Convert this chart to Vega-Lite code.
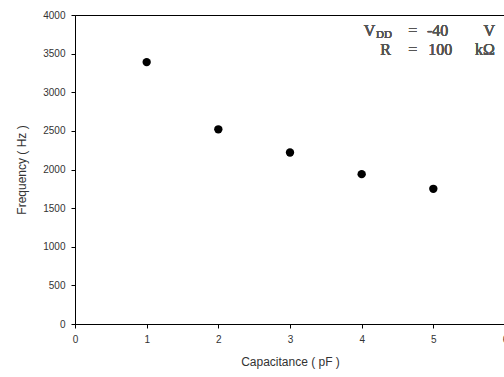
{
  "$schema": "https://vega.github.io/schema/vega-lite/v6.json",
  "width": 430,
  "height": 309,
  "autosize": {"type": "none"},
  "padding": {"left": 75, "top": 15, "right": 0, "bottom": 53},
  "background": "white",
  "config": {
    "view": {"stroke": "#000", "strokeWidth": 1},
    "text": {"font": "Liberation Serif", "fontSize": 16, "fontWeight": "normal", "baseline": "alphabetic", "color": "#555"},
    "axis": {
      "labelFont": "Liberation Sans",
      "titleFont": "Liberation Sans",
      "labelFontSize": 10,
      "titleFontSize": 12,
      "titleFontWeight": "normal",
      "labelColor": "#333",
      "titleColor": "#333",
      "domainColor": "#000",
      "tickColor": "#000",
      "grid": false,
      "tickSize": 4,
      "labelOverlap": false,
      "format": "d",
      "labelPadding": 6
    }
  },
  "data": {
    "values": [
      {"capacitance": 1, "frequency": 3390},
      {"capacitance": 2, "frequency": 2520},
      {"capacitance": 3, "frequency": 2220},
      {"capacitance": 4, "frequency": 1940},
      {"capacitance": 5, "frequency": 1750}
    ]
  },
  "layer": [
    {
      "mark": {"type": "point", "filled": true, "color": "#000", "opacity": 1, "size": 70},
      "encoding": {
        "x": {
          "field": "capacitance", "type": "quantitative",
          "scale": {"domain": [0, 6], "nice": false, "zero": true},
          "axis": {"title": "Capacitance ( pF )", "values": [0, 1, 2, 3, 4, 5, 6], "titlePadding": 12, "labelFlush": false}
        },
        "y": {
          "field": "frequency", "type": "quantitative",
          "scale": {"domain": [0, 4000], "nice": false},
          "axis": {"title": "Frequency ( Hz )", "values": [0, 500, 1000, 1500, 2000, 2500, 3000, 3500, 4000], "titlePadding": 14}
        }
      }
    },
    {
      "mark": {"type": "text", "align": "left"},
      "encoding": {
        "x": {"datum": 4.03, "type": "quantitative", "axis": {"title": "Capacitance ( pF )", "values": [0, 1, 2, 3, 4, 5, 6], "titlePadding": 12, "labelFlush": false}},
        "y": {"datum": 3728, "type": "quantitative", "axis": {"title": "Frequency ( Hz )", "values": [0, 500, 1000, 1500, 2000, 2500, 3000, 3500, 4000], "titlePadding": 14}},
        "text": {"value": "V"}
      }
    },
    {
      "mark": {"type": "text", "align": "left", "fontSize": 11},
      "encoding": {
        "x": {"datum": 4.2, "type": "quantitative", "axis": {"title": "Capacitance ( pF )", "values": [0, 1, 2, 3, 4, 5, 6], "titlePadding": 12, "labelFlush": false}},
        "y": {"datum": 3696, "type": "quantitative", "axis": {"title": "Frequency ( Hz )", "values": [0, 500, 1000, 1500, 2000, 2500, 3000, 3500, 4000], "titlePadding": 14}},
        "text": {"value": "DD"}
      }
    },
    {
      "mark": {"type": "text", "align": "left"},
      "encoding": {
        "x": {"datum": 4.65, "type": "quantitative", "axis": {"title": "Capacitance ( pF )", "values": [0, 1, 2, 3, 4, 5, 6], "titlePadding": 12, "labelFlush": false}},
        "y": {"datum": 3728, "type": "quantitative", "axis": {"title": "Frequency ( Hz )", "values": [0, 500, 1000, 1500, 2000, 2500, 3000, 3500, 4000], "titlePadding": 14}},
        "text": {"value": "="}
      }
    },
    {
      "mark": {"type": "text", "align": "left"},
      "encoding": {
        "x": {"datum": 4.91, "type": "quantitative", "axis": {"title": "Capacitance ( pF )", "values": [0, 1, 2, 3, 4, 5, 6], "titlePadding": 12, "labelFlush": false}},
        "y": {"datum": 3728, "type": "quantitative", "axis": {"title": "Frequency ( Hz )", "values": [0, 500, 1000, 1500, 2000, 2500, 3000, 3500, 4000], "titlePadding": 14}},
        "text": {"value": "-40"}
      }
    },
    {
      "mark": {"type": "text", "align": "right"},
      "encoding": {
        "x": {"datum": 5.86, "type": "quantitative", "axis": {"title": "Capacitance ( pF )", "values": [0, 1, 2, 3, 4, 5, 6], "titlePadding": 12, "labelFlush": false}},
        "y": {"datum": 3728, "type": "quantitative", "axis": {"title": "Frequency ( Hz )", "values": [0, 500, 1000, 1500, 2000, 2500, 3000, 3500, 4000], "titlePadding": 14}},
        "text": {"value": "V"}
      }
    },
    {
      "mark": {"type": "text", "align": "left"},
      "encoding": {
        "x": {"datum": 4.26, "type": "quantitative", "axis": {"title": "Capacitance ( pF )", "values": [0, 1, 2, 3, 4, 5, 6], "titlePadding": 12, "labelFlush": false}},
        "y": {"datum": 3482, "type": "quantitative", "axis": {"title": "Frequency ( Hz )", "values": [0, 500, 1000, 1500, 2000, 2500, 3000, 3500, 4000], "titlePadding": 14}},
        "text": {"value": "R"}
      }
    },
    {
      "mark": {"type": "text", "align": "left"},
      "encoding": {
        "x": {"datum": 4.65, "type": "quantitative", "axis": {"title": "Capacitance ( pF )", "values": [0, 1, 2, 3, 4, 5, 6], "titlePadding": 12, "labelFlush": false}},
        "y": {"datum": 3482, "type": "quantitative", "axis": {"title": "Frequency ( Hz )", "values": [0, 500, 1000, 1500, 2000, 2500, 3000, 3500, 4000], "titlePadding": 14}},
        "text": {"value": "="}
      }
    },
    {
      "mark": {"type": "text", "align": "left"},
      "encoding": {
        "x": {"datum": 4.93, "type": "quantitative", "axis": {"title": "Capacitance ( pF )", "values": [0, 1, 2, 3, 4, 5, 6], "titlePadding": 12, "labelFlush": false}},
        "y": {"datum": 3482, "type": "quantitative", "axis": {"title": "Frequency ( Hz )", "values": [0, 500, 1000, 1500, 2000, 2500, 3000, 3500, 4000], "titlePadding": 14}},
        "text": {"value": "100"}
      }
    },
    {
      "mark": {"type": "text", "align": "right"},
      "encoding": {
        "x": {"datum": 5.86, "type": "quantitative", "axis": {"title": "Capacitance ( pF )", "values": [0, 1, 2, 3, 4, 5, 6], "titlePadding": 12, "labelFlush": false}},
        "y": {"datum": 3482, "type": "quantitative", "axis": {"title": "Frequency ( Hz )", "values": [0, 500, 1000, 1500, 2000, 2500, 3000, 3500, 4000], "titlePadding": 14}},
        "text": {"value": "kΩ"}
      }
    }
  ]
}
